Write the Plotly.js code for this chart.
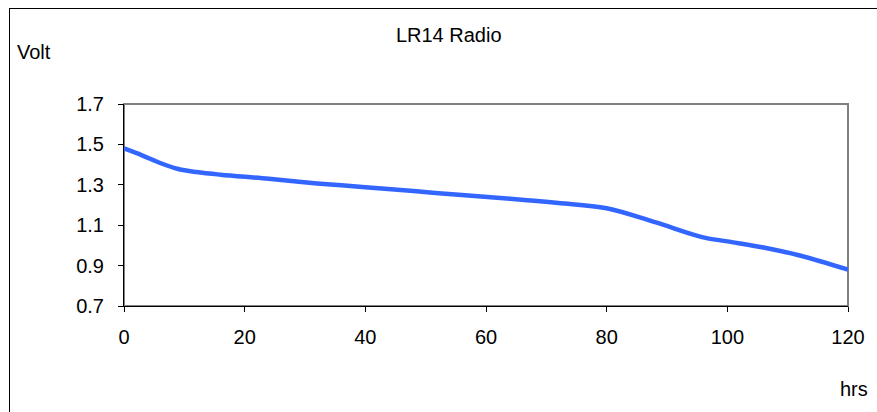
<!DOCTYPE html>
<html>
<head>
<meta charset="utf-8">
<script src="https://cdn.plot.ly/plotly-3.0.1.min.js"></script>
<style>
  html, body { margin: 0; padding: 0; background: #fff; }
  #wrap { position: relative; width: 877px; height: 412px; overflow: hidden; }
  #chart { position: absolute; left: 0; top: 0; width: 877px; height: 412px; }
  #frame { position: absolute; left: 9px; top: 8px; width: 880px; height: 420px;
           border-left: 1px solid #000; border-top: 1px solid #000; pointer-events: none; }
</style>
</head>
<body>
<div id="wrap">
  <div id="chart"></div>
  <div id="frame"></div>
</div>
<script>
const titleText = "LR14 Radio";
const yLabel = "Volt";
const xLabel = "hrs";
const hours = [0, 3, 6, 9, 12, 16, 24, 32, 40, 48, 56, 64, 72, 80, 88, 96, 100, 106, 112, 120];
const volts = [1.48, 1.446, 1.408, 1.378, 1.363, 1.350, 1.330, 1.307, 1.288, 1.269, 1.249, 1.231, 1.210, 1.184, 1.115, 1.040, 1.020, 0.990, 0.950, 0.880];
const xTicks = [0, 20, 40, 60, 80, 100, 120];
const yTicks = [0.7, 0.9, 1.1, 1.3, 1.5, 1.7];

const FONT = "Liberation Sans, Arial, sans-serif";
const FS = 20;

const trace = {
  x: hours, y: volts, type: "scatter", mode: "lines",
  line: { color: "rgb(51,102,255)", width: 4.5, shape: "spline", smoothing: 1 },
  hoverinfo: "skip"
};

const layout = {
  width: 877, height: 412,
  margin: { l: 124, r: 29, t: 104, b: 106 },
  paper_bgcolor: "#fff", plot_bgcolor: "#fff",
  showlegend: false,
  font: { family: FONT, size: FS, color: "#000" },
  title: { text: titleText, font: { family: FONT, size: FS, color: "#000" },
           x: 448.7 / 877, xanchor: "center", xref: "container",
           y: 1 - 34.5 / 412, yanchor: "middle", yref: "container" },
  xaxis: {
    range: [0, 120], tickvals: xTicks, ticktext: xTicks.map(String),
    showgrid: false, zeroline: false,
    showline: true, linecolor: "#000", linewidth: 1,
    ticks: "outside", ticklen: 5, tickcolor: "#000", tickwidth: 1,
    ticklabelstandoff: 8,
    tickfont: { family: FONT, size: FS, color: "#000" }
  },
  yaxis: {
    range: [0.7, 1.7], tickvals: yTicks, ticktext: yTicks.map(v => v.toFixed(1)),
    showgrid: false, zeroline: false,
    showline: true, linecolor: "#000", linewidth: 1,
    ticks: "outside", ticklen: 5, tickcolor: "#000", tickwidth: 1,
    ticklabelstandoff: 10,
    tickfont: { family: FONT, size: FS, color: "#000" }
  },
  shapes: [{
    type: "rect", xref: "paper", yref: "paper", x0: 0, x1: 1, y0: 0, y1: 1,
    line: { color: "#808080", width: 2 }, layer: "below"
  }],
  annotations: [
    { text: yLabel, xref: "paper", yref: "paper", x: -(124 - 15) / 724, y: 1 + (104 - 52) / 202,
      xanchor: "left", yanchor: "middle", showarrow: false,
      font: { family: FONT, size: FS, color: "#000" } },
    { text: xLabel, xref: "paper", yref: "paper", x: 1 + (870 - 848) / 724, y: -(389 - 306) / 202,
      xanchor: "right", yanchor: "middle", showarrow: false,
      font: { family: FONT, size: FS, color: "#000" } }
  ]
};

Plotly.newPlot("chart", [trace], layout, { staticPlot: true, displayModeBar: false });
</script>
</body>
</html>
